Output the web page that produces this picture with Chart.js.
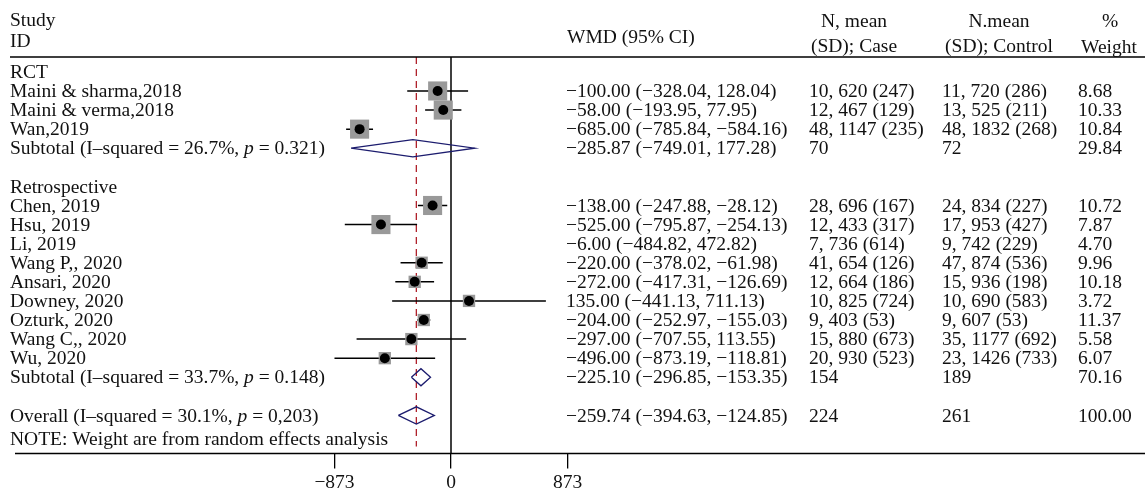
<!DOCTYPE html>
<html>
<head>
<meta charset="utf-8">
<script src="https://cdn.jsdelivr.net/npm/chart.js@4.4.1/dist/chart.umd.min.js"></script>
<style>
  body { margin: 0; background: #fff; }
</style>
</head>
<body>
<canvas id="forest" width="1145" height="498"></canvas>
<script>
// studies
const studies = ['Maini & sharma,2018', 'Maini & verma,2018', 'Wan,2019', 'Chen, 2019', 'Hsu, 2019', 'Li, 2019',
  'Wang P,, 2020', 'Ansari, 2020', 'Downey, 2020', 'Ozturk, 2020', 'Wang C,, 2020', 'Wu, 2020'];
const design = ['RCT', 'RCT', 'RCT', 'Retrospective', 'Retrospective', 'Retrospective', 'Retrospective',
  'Retrospective', 'Retrospective', 'Retrospective', 'Retrospective', 'Retrospective'];
const wmd = [-100.00, -58.00, -685.00, -138.00, -525.00, -6.00, -220.00, -272.00, 135.00, -204.00, -297.00, -496.00];
const ciLow = [-328.04, -193.95, -785.84, -247.88, -795.87, -484.82, -378.02, -417.31, -441.13, -252.97, -707.55, -873.19];
const ciHigh = [128.04, 77.95, -584.16, -28.12, -254.13, 472.82, -61.98, -126.69, 711.13, -155.03, 113.55, -118.81];
const caseText = ['10, 620 (247)', '12, 467 (129)', '48, 1147 (235)', '28, 696 (167)', '12, 433 (317)', '7, 736 (614)',
  '41, 654 (126)', '12, 664 (186)', '10, 825 (724)', '9, 403 (53)', '15, 880 (673)', '20, 930 (523)'];
const controlText = ['11, 720 (286)', '13, 525 (211)', '48, 1832 (268)', '24, 834 (227)', '17, 953 (427)', '9, 742 (229)',
  '47, 874 (536)', '15, 936 (198)', '10, 690 (583)', '9, 607 (53)', '35, 1177 (692)', '23, 1426 (733)'];
const weights = ['8.68', '10.33', '10.84', '10.72', '7.87', '4.70', '9.96', '10.18', '3.72', '11.37', '5.58', '6.07'];
// no marker is drawn for this study in the original figure
const notPlotted = ['Li, 2019'];

// subtotals + overall
const summaryLabels = ['Subtotal (I–squared = 26.7%, p = 0.321)', 'Subtotal (I–squared = 33.7%, p = 0.148)',
  'Overall (I–squared = 30.1%, p = 0,203)'];
const summaryEst = [-285.87, -225.10, -259.74];
const summaryLow = [-749.01, -296.85, -394.63];
const summaryHigh = [177.28, -153.35, -124.85];
const summaryCase = ['70', '154', '224'];
const summaryControl = ['72', '189', '261'];
const summaryWeight = ['29.84', '70.16', '100.00'];

const xTicks = [-873, 0, 873];
const note = 'NOTE: Weight are from random effects analysis';

const FONT = '"Liberation Serif", "Times New Roman", serif';
const FS = 19.5;
const fmt = v => (v < 0 ? '\u2212' : '') + Math.abs(v).toFixed(2);
const ciStr = (e, lo, hi) => fmt(e) + ' (' + fmt(lo) + ', ' + fmt(hi) + ')';

// lay out rows: group header, studies, subtotal, blank line
const groups = [...new Set(design)];
const overallIdx = groups.length;
const studyRow = [];
const summaryRow = [];
const rows = [];
let row = 0;
groups.forEach((g, gi) => {
  rows.push({ y: row++, label: g });
  design.forEach((d, i) => {
    if (d !== g) return;
    studyRow[i] = row;
    rows.push({ y: row++, label: studies[i],
      cols: [ciStr(wmd[i], ciLow[i], ciHigh[i]), caseText[i], controlText[i], weights[i]] });
  });
  summaryRow[gi] = row;
  row += 2;
});
summaryRow[overallIdx] = row;
summaryLabels.forEach((lab, k) => {
  rows.push({ y: summaryRow[k], label: lab,
    cols: [ciStr(summaryEst[k], summaryLow[k], summaryHigh[k]), summaryCase[k], summaryControl[k], summaryWeight[k]] });
});
const noteRow = row + 1.3;

const plotted = studies.map((s, i) => i).filter(i => !notPlotted.includes(studies[i]));

// CI whiskers as one line dataset with gaps
const ciData = [];
plotted.forEach(i => {
  ciData.push({ x: ciLow[i], y: studyRow[i] }, { x: ciHigh[i], y: studyRow[i] }, { x: wmd[i], y: null });
});

// diamonds
const dh = 0.45;
const diamondData = [];
summaryEst.forEach((e, k) => {
  const r = summaryRow[k];
  diamondData.push({ x: summaryLow[k], y: r }, { x: e, y: r - dh }, { x: summaryHigh[k], y: r },
    { x: e, y: r + dh }, { x: summaryLow[k], y: r }, { x: e, y: null });
});

const boxData = plotted.map(i => ({ x: wmd[i], y: studyRow[i] }));
const dotData = plotted.map(i => ({ x: wmd[i], y: studyRow[i] }));

const forestText = {
  id: 'forestText',
  beforeDatasetsDraw(chart) {
    const { ctx, chartArea, scales: { x } } = chart;
    ctx.save();
    // zero line
    ctx.strokeStyle = '#000';
    ctx.lineWidth = 1.5;
    ctx.beginPath();
    ctx.moveTo(x.getPixelForValue(0), chartArea.top);
    ctx.lineTo(x.getPixelForValue(0), chartArea.bottom);
    ctx.stroke();
    // overall estimate, dashed
    ctx.strokeStyle = '#b0202a';
    ctx.lineWidth = 1.3;
    ctx.setLineDash([7, 5]);
    ctx.beginPath();
    ctx.moveTo(x.getPixelForValue(summaryEst[overallIdx]), chartArea.top);
    ctx.lineTo(x.getPixelForValue(summaryEst[overallIdx]), chartArea.bottom - 7);
    ctx.stroke();
    ctx.restore();
  },
  afterDraw(chart) {
    const { ctx, chartArea, scales: { y } } = chart;
    const W = chart.width;
    const font = FS + 'px ' + FONT;
    ctx.save();
    ctx.fillStyle = '#111';
    ctx.textBaseline = 'middle';
    ctx.font = font;
    const top = chartArea.top;

    // header
    ctx.textAlign = 'left';
    ctx.fillText('Study', 10, top - 36);
    ctx.fillText('ID', 10, top - 15);
    ctx.fillText('WMD (95% CI)', 567, top - 19);
    ctx.textAlign = 'center';
    ctx.fillText('N, mean', 854, top - 35);
    ctx.fillText('(SD); Case', 854, top - 10);
    ctx.fillText('N.mean', 999, top - 35);
    ctx.fillText('(SD); Control', 999, top - 10);
    ctx.fillText('%', 1110, top - 35);
    ctx.fillText('Weight', 1109, top - 9);

    // rules
    ctx.strokeStyle = '#000';
    ctx.lineWidth = 1.5;
    ctx.beginPath();
    ctx.moveTo(10, top);
    ctx.lineTo(W, top);
    ctx.moveTo(15, chartArea.bottom);
    ctx.lineTo(W, chartArea.bottom);
    ctx.stroke();

    // rows
    const colX = [566, 809, 942, 1078];
    ctx.textAlign = 'left';
    rows.forEach(r => {
      const py = y.getPixelForValue(r.y) + 1;
      let px = 10;
      r.label.split(/(\bp\b)/).forEach(part => {
        ctx.font = (part === 'p' ? 'italic ' : '') + font;
        ctx.fillText(part, px, py);
        px += ctx.measureText(part).width;
      });
      ctx.font = font;
      if (r.cols) r.cols.forEach((t, c) => ctx.fillText(t, colX[c], py));
    });
    ctx.fillText(note, 10, y.getPixelForValue(noteRow));
    ctx.restore();
  }
};

new Chart(document.getElementById('forest'), {
  type: 'scatter',
  data: {
    datasets: [
      {
        order: 4,
        data: ciData, showLine: true, spanGaps: false, borderColor: '#000', borderWidth: 1.5,
        pointRadius: 0, clip: false
      },
      {
        order: 3,
        data: boxData, pointStyle: 'rect', backgroundColor: '#999', borderWidth: 0,
        pointRadius: ctx => (plotted[ctx.dataIndex] < 5 ? 13.5 : 8.7), clip: false
      },
      {
        order: 2,
        data: dotData, pointStyle: 'circle', backgroundColor: '#000', borderColor: '#000', borderWidth: 0,
        pointRadius: 5, clip: false
      },
      {
        order: 1,
        data: diamondData, showLine: true, spanGaps: false, borderColor: '#1c1c6e', borderWidth: 1.3,
        fill: false, pointRadius: 0, clip: false
      }
    ]
  },
  options: {
    responsive: false,
    animation: false,
    devicePixelRatio: 1,
    layout: { padding: { left: 334.5, right: 577.5, top: 57, bottom: 0 } },
    plugins: { legend: { display: false }, tooltip: { enabled: false } },
    scales: {
      x: {
        type: 'linear', min: -873, max: 873,
        afterBuildTicks: s => { s.ticks = xTicks.map(v => ({ value: v })); },
        grid: { drawOnChartArea: false, drawTicks: true, tickLength: 15, color: '#000', lineWidth: 1.3 },
        border: { display: false },
        ticks: {
          padding: 3, color: '#111', font: { family: FONT, size: FS },
          maxRotation: 0, autoSkip: false,
          callback: v => (v < 0 ? '\u2212' + Math.abs(v) : String(v))
        }
      },
      y: {
        type: 'linear', reverse: true, min: -0.78, max: 20, display: false
      }
    }
  },
  plugins: [forestText]
});
</script>
</body>
</html>
